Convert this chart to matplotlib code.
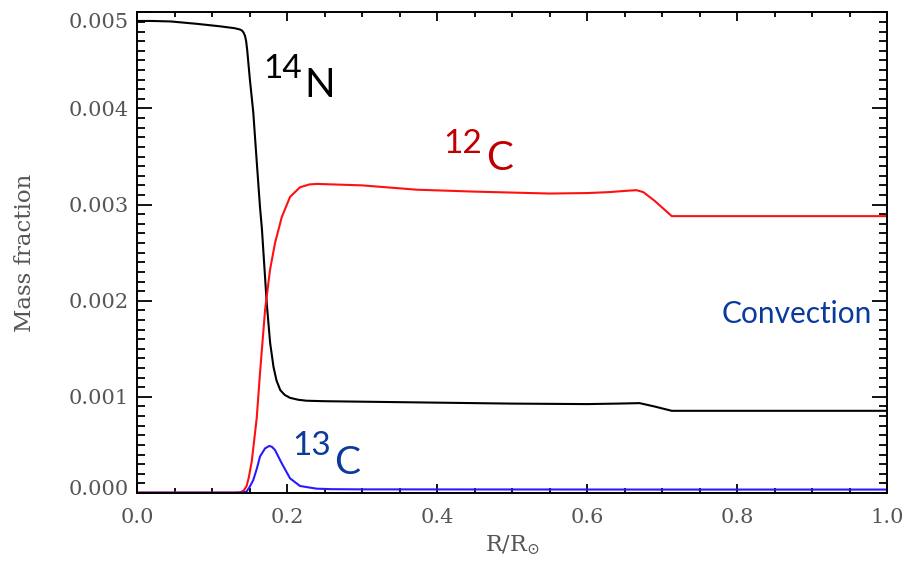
import matplotlib
matplotlib.use("Agg")
import matplotlib.pyplot as plt
import matplotlib.transforms as mtransforms
from matplotlib.ticker import MultipleLocator, FormatStrFormatter

plt.rcParams['font.family'] = ['DejaVu Serif']
plt.rcParams['mathtext.fontset'] = 'dejavuserif'

# 14N profile (mass fraction, in units of 1e-3)
n14_r = [0, 0.02, 0.045, 0.08, 0.11, 0.13, 0.137, 0.14, 0.142, 0.144, 0.1455,
         0.147, 0.1485, 0.1505, 0.155, 0.1595, 0.164, 0.1665, 0.173, 0.1775,
         0.182, 0.186, 0.191, 0.197, 0.204, 0.215, 0.226, 0.25, 0.3, 0.4, 0.5,
         0.6, 0.64, 0.67, 0.69, 0.713, 0.8, 1.0]
n14_x = [4.91, 4.91, 4.905, 4.88, 4.855, 4.835, 4.822, 4.81, 4.79, 4.755, 4.70,
         4.60, 4.47, 4.30, 3.96, 3.46, 2.97, 2.75, 1.97, 1.56,
         1.31, 1.17, 1.07, 1.02, 0.99, 0.97, 0.96, 0.955, 0.95, 0.94, 0.93,
         0.925, 0.93, 0.935, 0.90, 0.855, 0.855, 0.855]

# 12C profile
c12_r = [0, 0.13, 0.138, 0.142, 0.146, 0.149, 0.153, 0.1596, 0.164, 0.1707,
         0.1773, 0.184, 0.193, 0.204, 0.2173, 0.23, 0.24, 0.26, 0.3, 0.373,
         0.45, 0.55, 0.6, 0.63, 0.655, 0.666, 0.675, 0.69, 0.713, 0.8, 1.0]
c12_x = [0.005, 0.005, 0.008, 0.025, 0.07, 0.16, 0.33, 0.78, 1.25, 1.9,
         2.32, 2.6, 2.87, 3.08, 3.18, 3.21, 3.215, 3.21, 3.20, 3.155,
         3.135, 3.115, 3.12, 3.13, 3.145, 3.15, 3.13, 3.04, 2.88, 2.88, 2.88]

# 13C profile
c13_r = [0, 0.13, 0.14, 0.146, 0.15, 0.155, 0.16, 0.164, 0.1707, 0.1764, 0.18,
         0.184, 0.1929, 0.204, 0.2173, 0.2396, 0.26, 0.3, 0.5, 0.7, 1.0]
c13_x = [0.003, 0.003, 0.005, 0.015, 0.06, 0.135, 0.26, 0.38, 0.464, 0.49, 0.48,
         0.447, 0.31, 0.153, 0.073, 0.045, 0.04, 0.038, 0.037, 0.036, 0.036]

scale = 1e-3
gray = '#555555'

fig = plt.figure(figsize=(9.11, 5.65), dpi=100)
ax = fig.add_axes([0.1504, 0.1274, 0.8233, 0.8508])

ax.plot(n14_r, [v * scale for v in n14_x], color='black', lw=1.5)
ax.plot(c12_r, [v * scale for v in c12_x], color='#ff1010', lw=1.5)
ax.plot(c13_r, [v * scale for v in c13_x], color='#2a1aff', lw=1.5)

ax.set_xlim(0, 1.0)
ax.set_ylim(0, 0.005)
ax.xaxis.set_major_locator(MultipleLocator(0.2))
ax.xaxis.set_minor_locator(MultipleLocator(0.05))
ax.xaxis.set_major_formatter(FormatStrFormatter('%.1f'))
ax.yaxis.set_major_locator(MultipleLocator(0.001))
ax.yaxis.set_minor_locator(MultipleLocator(0.0001))
ax.yaxis.set_major_formatter(FormatStrFormatter('%.3f'))

for s in ax.spines.values():
    s.set_linewidth(1.4)

ax.tick_params(which='both', direction='in', top=True, right=True,
               width=1.3, color='black', labelcolor=gray, labelsize=15)
ax.tick_params(axis='x', which='major', length=6.5, pad=11)
ax.tick_params(axis='x', which='minor', length=3.5)
ax.tick_params(axis='y', which='major', length=11, pad=6)
ax.tick_params(axis='y', which='minor', length=6)

ax.set_xlabel(r'R/R$_{\odot}$', color=gray, fontsize=16)
ax.set_ylabel('Mass fraction', color=gray, fontsize=16.5)
ax.xaxis.set_label_coords(0.5, -0.085)
ax.yaxis.set_label_coords(-0.135, 0.5)

# end labels of the y axis sit a little inside the frame
fig.canvas.draw()
for t in ax.yaxis.get_major_ticks():
    loc = t.get_loc()
    if loc is None:
        continue
    if abs(loc) < 1e-9:
        dy = 0.06
    elif abs(loc - 0.005) < 1e-9:
        dy = -0.08
    else:
        continue
    t.label1.set_transform(t.label1.get_transform() +
                           mtransforms.ScaledTranslation(0, dy, fig.dpi_scale_trans))

# isotope annotations
lab = ['Lato', 'DejaVu Sans']
ax.text(0.168, 0.004316, '14', family=lab, fontsize=24, color='black')
ax.text(0.223, 0.004119, 'N', family=lab, fontsize=29, color='black')
ax.text(0.409, 0.003533, '12', family=lab, fontsize=24, color='#c00000')
ax.text(0.465, 0.00336, 'C', family=lab, fontsize=29, color='#c00000')
ax.text(0.207, 0.000395, '13', family=lab, fontsize=24, color='#0a3a9c')
ax.text(0.263, 0.000200, 'C', family=lab, fontsize=28, color='#0a3a9c')
ax.text(0.779, 0.00177, 'Convection', family=lab, fontsize=21.5, color='#0a3a9c')

fig.savefig('out.png', dpi=100)
